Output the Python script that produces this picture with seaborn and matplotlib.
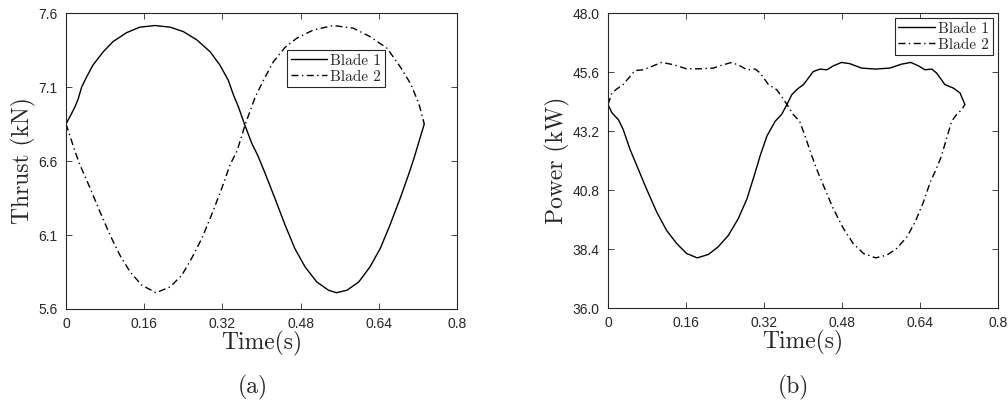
import numpy as np
import pandas as pd
import matplotlib
matplotlib.use("Agg")
import matplotlib.pyplot as plt
import seaborn as sns

# ---------------- data ----------------
t_thrust_b1 = [0.000, 0.008, 0.018, 0.025, 0.032, 0.042, 0.055, 0.076, 0.096, 0.124,
               0.151, 0.182, 0.213, 0.240, 0.268, 0.295, 0.315, 0.332, 0.343, 0.353,
               0.365, 0.380, 0.392, 0.407, 0.427, 0.448, 0.468, 0.489, 0.513, 0.537,
               0.553, 0.575, 0.599, 0.622, 0.643, 0.663, 0.684, 0.701, 0.712, 0.722,
               0.733]
thrust_b1 = [6.851, 6.900, 6.964, 7.021, 7.100, 7.168, 7.248, 7.338, 7.407, 7.468,
             7.505, 7.516, 7.505, 7.475, 7.418, 7.338, 7.248, 7.146, 7.043, 6.964,
             6.851, 6.720, 6.640, 6.520, 6.351, 6.169, 6.010, 5.885, 5.783, 5.727,
             5.710, 5.727, 5.783, 5.885, 6.010, 6.169, 6.351, 6.510, 6.620, 6.730,
             6.851]

t_thrust_b2 = [0.000, 0.018, 0.028, 0.049, 0.069, 0.090, 0.110, 0.131, 0.155, 0.184,
               0.213, 0.237, 0.257, 0.278, 0.298, 0.319, 0.336, 0.350, 0.367, 0.387,
               0.404, 0.424, 0.448, 0.472, 0.506, 0.547, 0.588, 0.622, 0.657, 0.684,
               0.705, 0.722, 0.733]
thrust_b2 = [6.851, 6.669, 6.578, 6.419, 6.260, 6.100, 5.965, 5.851, 5.761, 5.710,
             5.749, 5.829, 5.942, 6.078, 6.238, 6.419, 6.578, 6.669, 6.851, 7.032,
             7.146, 7.270, 7.368, 7.430, 7.486, 7.516, 7.498, 7.441, 7.362, 7.236,
             7.123, 6.987, 6.851]

t_power_b1 = [0.000, 0.008, 0.021, 0.031, 0.045, 0.062, 0.079, 0.100, 0.120, 0.141,
              0.161, 0.183, 0.206, 0.226, 0.247, 0.267, 0.285, 0.302, 0.312, 0.326,
              0.343, 0.356, 0.367, 0.377, 0.388, 0.401, 0.421, 0.435, 0.449, 0.462,
              0.479, 0.496, 0.520, 0.548, 0.578, 0.602, 0.621, 0.637, 0.650, 0.664,
              0.674, 0.691, 0.708, 0.722, 0.732]
power_b1 = [44.28, 43.94, 43.67, 43.27, 42.46, 41.65, 40.84, 39.90, 39.16, 38.62,
            38.22, 38.04, 38.18, 38.49, 38.96, 39.63, 40.44, 41.52, 42.19, 43.00,
            43.60, 43.87, 44.28, 44.68, 44.90, 45.09, 45.62, 45.72, 45.69, 45.85,
            45.99, 45.94, 45.76, 45.72, 45.76, 45.92, 45.99, 45.85, 45.69, 45.72,
            45.56, 45.09, 44.95, 44.75, 44.28]

t_power_b2 = [0.000, 0.008, 0.018, 0.031, 0.045, 0.055, 0.072, 0.090, 0.110, 0.134,
              0.161, 0.189, 0.216, 0.237, 0.254, 0.271, 0.285, 0.302, 0.312, 0.329,
              0.346, 0.356, 0.367, 0.380, 0.393, 0.404, 0.418, 0.430, 0.442, 0.462,
              0.483, 0.503, 0.524, 0.549, 0.572, 0.592, 0.613, 0.630, 0.647, 0.661,
              0.672, 0.683, 0.695, 0.705, 0.715, 0.726, 0.732]
power_b2 = [44.28, 44.75, 44.91, 45.09, 45.42, 45.66, 45.69, 45.83, 45.99, 45.90,
            45.73, 45.73, 45.76, 45.90, 45.99, 45.85, 45.69, 45.72, 45.56, 45.09,
            44.88, 44.61, 44.28, 43.87, 43.60, 43.00, 42.19, 41.55, 40.98, 40.04,
            39.23, 38.62, 38.22, 38.04, 38.15, 38.42, 38.89, 39.50, 40.31, 41.12,
            41.60, 42.13, 42.93, 43.60, 43.87, 44.08, 44.28]

series_labels = ["Blade 1", "Blade 2"]
x_ticks = [0, 0.16, 0.32, 0.48, 0.64, 0.8]
x_ticklabels = ["0", "0.16", "0.32", "0.48", "0.64", "0.8"]
thrust_ticks = [5.6, 6.1, 6.6, 7.1, 7.6]
thrust_ticklabels = ["5.6", "6.1", "6.6", "7.1", "7.6"]
power_ticks = [36.0, 38.4, 40.8, 43.2, 45.6, 48.0]
power_ticklabels = ["36.0", "38.4", "40.8", "43.2", "45.6", "48.0"]

# ---------------- style ----------------
sns.set_theme(style="white")
plt.rcParams.update({
    "font.family": ["Liberation Sans", "DejaVu Sans"],
    "axes.edgecolor": "#262626",
    "axes.linewidth": 0.8,
    "xtick.direction": "in",
    "ytick.direction": "in",
    "xtick.top": True,
    "ytick.right": True,
    "xtick.bottom": True,
    "ytick.left": True,
    "xtick.major.size": 4,
    "ytick.major.size": 4,
    "xtick.major.width": 0.6,
    "ytick.major.width": 0.6,
    "xtick.color": "#262626",
    "ytick.color": "#262626",
    "xtick.labelsize": 10,
    "ytick.labelsize": 10,
    "lines.scale_dashes": True,
    "lines.solid_joinstyle": "round",
    "lines.dash_joinstyle": "round",
})

serif = "cmr10"
dash_dot = (5, 2.5, 1, 2.5)

fig = plt.figure(figsize=(10.08, 4.07), dpi=100)
axL = fig.add_axes([0.0655, 0.2408, 0.3879, 0.727])
axR = fig.add_axes([0.6032, 0.2432, 0.3869, 0.7248])


def draw(ax, t1, y1, t2, y2):
    sns.lineplot(x=t1, y=y1, ax=ax, color="black", linewidth=1.0,
                 estimator=None, label=series_labels[0])
    sns.lineplot(x=t2, y=y2, ax=ax, color="black", linewidth=1.0,
                 estimator=None, label=series_labels[1], dashes=False)
    ax.lines[1].set_dashes(dash_dot)
    ax.set_xlim(0, 0.8)
    ax.set_xticks(x_ticks)
    ax.set_xticklabels(x_ticklabels)
    ax.tick_params(axis="x", pad=6)
    ax.tick_params(axis="y", pad=6)
    for s in ax.spines.values():
        s.set_visible(True)
        s.set_color("#262626")


draw(axL, t_thrust_b1, thrust_b1, t_thrust_b2, thrust_b2)
axL.set_ylim(5.6, 7.6)
axL.set_yticks(thrust_ticks)
axL.set_yticklabels(thrust_ticklabels)
axL.set_xlabel("Time(s)", fontfamily=serif, fontsize=17, labelpad=0, color="#262626")
axL.set_ylabel("Thrust (kN)", fontfamily=serif, fontsize=17, labelpad=2, color="#262626")

draw(axR, t_power_b1, power_b1, t_power_b2, power_b2)
axR.set_ylim(36.0, 48.0)
axR.set_yticks(power_ticks)
axR.set_yticklabels(power_ticklabels)
axR.set_xlabel("Time(s)", fontfamily=serif, fontsize=17, labelpad=0, color="#262626")
axR.set_ylabel("Power (kW)", fontfamily=serif, fontsize=17, labelpad=2, color="#262626")

leg_kw = dict(prop={"family": serif, "size": 11}, frameon=True, fancybox=False,
              edgecolor="#262626", framealpha=1, handlelength=2.4,
              handletextpad=0.2, borderpad=0.25, labelspacing=0.15,
              borderaxespad=0)
legL = axL.legend(loc="upper left", bbox_to_anchor=(0.565, 0.875), **leg_kw)
legR = axR.legend(loc="upper right", bbox_to_anchor=(0.987, 0.983), **leg_kw)
for leg in (legL, legR):
    leg.get_frame().set_linewidth(0.8)
    leg.get_lines()[1].set_dashes(dash_dot)
    leg.get_lines()[0].set_linestyle("-")

fig.text(0.251, 0.049, "(a)", fontfamily=serif, fontsize=17, ha="center", va="center",
         color="#262626")
fig.text(0.787, 0.049, "(b)", fontfamily=serif, fontsize=17, ha="center", va="center",
         color="#262626")

fig.savefig("out.png", dpi=100, facecolor="white")
